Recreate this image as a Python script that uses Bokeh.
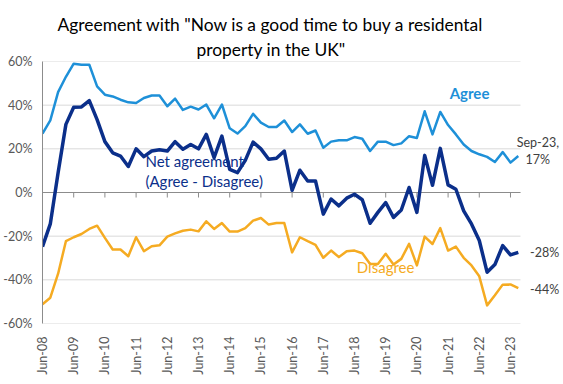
from bokeh.plotting import figure
from bokeh.models import (ColumnDataSource, FixedTicker, PrintfTickFormatter,
                          Label, Title, Range1d)
from bokeh.embed import file_html
from bokeh.resources import INLINE
import math

# ---------------- data (quarterly, Jun-08 .. Sep-23) ----------------
tick_labels = ["Jun-08", "Jun-09", "Jun-10", "Jun-11", "Jun-12", "Jun-13", "Jun-14", "Jun-15",
               "Jun-16", "Jun-17", "Jun-18", "Jun-19", "Jun-20", "Jun-21", "Jun-22", "Jun-23"]

agree = [27, 33, 46, 53, 59, 58.5, 58.5, 48.6, 44.8, 44, 42.5, 41.3, 41, 43.3, 44.4, 44.4,
         39.5, 43, 37.8, 39.3, 38, 40.3, 34, 40.3, 29.4, 27, 30.4, 36, 32, 30, 30, 33,
         27.7, 31.2, 26.9, 28.4, 20.5, 23.3, 23.9, 23.9, 25.4, 24.6, 19, 23.3, 23.3, 21.7, 22.5, 25.8,
         25, 37.2, 26.6, 36.9, 30.9, 26.6, 22, 19, 17.5, 16.3, 14, 18.5, 13.7, 16.7]

disagree = [-51.2, -48.2, -37.2, -22.3, -20.5, -19, -16.7, -15.2, -20.8, -26.1, -26.1, -29.2, -20.5, -26.9, -24.6, -24.2,
            -20.2, -18.7, -17.5, -17, -17.8, -13.2, -16.7, -14, -17.9, -17.9, -16.3, -12.9, -11.7, -14.7, -14, -14,
            -27.4, -20.5, -22.3, -24, -29.9, -26.6, -29.6, -26.9, -26.6, -27.8, -32.7, -32.7, -28.1, -33, -30.4, -23.5,
            -33.4, -20.2, -23.6, -16.3, -26.6, -24.8, -29.9, -33.4, -38.4, -51.7, -47.1, -42.2, -42.1, -43.8]

net = [-24.8, -14.4, 9, 31.2, 39, 39.2, 42.1, 33.4, 23.3, 18.2, 16.7, 11.9, 20, 16.4, 19, 19.6,
       19, 23.3, 19.8, 22, 20, 26.6, 16, 25.8, 10.6, 9.1, 14.7, 23.1, 20, 15.2, 15.7, 19,
       1, 10.2, 5.3, 5.3, -9.9, -3, -6.1, -2.6, -0.8, -3.3, -14.1, -9.1, -4.6, -11.4, -8, 2.3,
       -9.1, 17, 3.3, 20.2, 3.5, 1.5, -8.4, -14.4, -22, -36.5, -33, -24.3, -28.6, -27.4]

y_ticks = [-60, -40, -20, 0, 20, 40, 60]

# ---------------- styling ----------------
FONT = "Lato"
C_AGREE = "#1e90d8"
C_NET = "#0b2f8a"
C_DIS = "#f5ab22"
C_TXT = "#404040"

x = list(range(len(agree)))
src = ColumnDataSource(dict(x=x, agree=agree, disagree=disagree, net=net))
tick_pos = [4 * k for k in range(len(tick_labels))]
X_END = 61.28          # right edge of the chart area, in quarters
X_VIEW = 66.54         # extra room at the right for the end labels

p = figure(frame_width=519, frame_height=262,
           min_border_left=35, min_border_right=0, min_border_top=61, min_border_bottom=40,
           x_range=Range1d(0, X_VIEW), y_range=Range1d(-60, 60),
           output_backend="svg", toolbar_location=None, tools="")
p.outline_line_color = None
p.background_fill_color = "white"
p.border_fill_color = "white"

# titles (first added sits nearest the plot)
p.add_layout(Title(text='property in the UK"', align="left", text_font=FONT,
                   text_font_size="17.4px", text_font_style="normal", text_color="#000000",
                   offset=154, standoff=4), "above")
p.add_layout(Title(text='Agreement with "Now is a good time to buy a residental', align="left",
                   text_font=FONT, text_font_size="17.4px", text_font_style="normal",
                   text_color="#000000", offset=15, standoff=0), "above")

# grid (drawn only across the chart area)
p.xgrid.visible = False
p.ygrid.visible = False
p.segment(x0=[0] * len(y_ticks), y0=y_ticks, x1=[X_END] * len(y_ticks), y1=y_ticks,
          line_color="#d9d9d9", line_width=1)

# y axis
p.yaxis.ticker = FixedTicker(ticks=y_ticks)
p.yaxis.formatter = PrintfTickFormatter(format="%d%%")
p.yaxis.axis_line_color = "#8c8c8c"
p.yaxis.major_tick_line_color = None
p.yaxis.minor_tick_line_color = None
p.yaxis.major_label_standoff = 4
p.yaxis.major_label_text_font = FONT
p.yaxis.major_label_text_font_size = "12.5px"
p.yaxis.major_label_text_color = "#595959"

# x axis (labels only, at the bottom)
p.xaxis.ticker = FixedTicker(ticks=tick_pos)
p.xaxis.major_label_overrides = {pos: lab for pos, lab in zip(tick_pos, tick_labels)}
p.xaxis.major_label_orientation = math.pi / 2
p.xaxis.axis_line_color = None
p.xaxis.major_tick_line_color = None
p.xaxis.minor_tick_line_color = None
p.xaxis.major_label_standoff = 7
p.xaxis.major_label_text_font = FONT
p.xaxis.major_label_text_font_size = "12.5px"
p.xaxis.major_label_text_color = "#595959"

# zero line with tick marks
p.segment(x0=[0], y0=[0], x1=[X_END], y1=[0], line_color="#8c8c8c", line_width=1)
p.segment(x0=tick_pos, y0=[0] * len(tick_pos), x1=tick_pos, y1=[-2.3] * len(tick_pos),
          line_color="#8c8c8c", line_width=1)

# series
p.line("x", "disagree", source=src, line_color=C_DIS, line_width=2.5, line_join="round")
p.line("x", "agree", source=src, line_color=C_AGREE, line_width=2.5, line_join="round")
p.line("x", "net", source=src, line_color=C_NET, line_width=3.5, line_join="round")

# in-chart labels
def lab(xv, yv, t, color, size="15px", style="normal", align="left"):
    p.add_layout(Label(x=xv, y=yv, text=t, text_color=color, text_font=FONT,
                       text_font_size=size, text_font_style=style, text_align=align,
                       text_baseline="middle"))

lab(13.2, 14.3, "Net agreement", C_NET)
lab(13.2, 5.1, "(Agree - Disagree)", C_NET)
lab(52.2, 45.6, "Agree", C_AGREE, style="bold")
lab(40.3, -34.0, "Disagree", C_DIS)
lab(60.8, 22.9, "Sep-23,", C_TXT, size="12.5px")
lab(63.5, 15.2, "17%", C_TXT, size="12.5px", align="center")
lab(62.5, -27.6, "-28%", C_TXT, size="12.5px")
lab(62.5, -44.5, "-44%", C_TXT, size="12.5px")

open("out.html", "w").write(file_html(p, INLINE))
